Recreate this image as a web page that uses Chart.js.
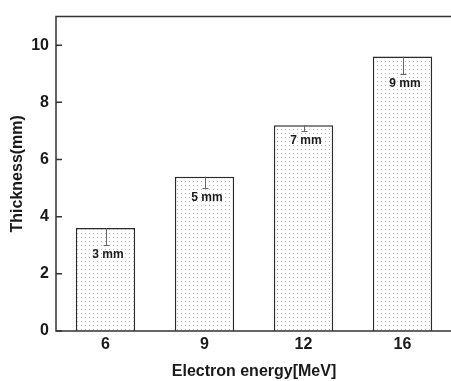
<!DOCTYPE html>
<html>
<head>
<meta charset="utf-8">
<script src="https://cdn.jsdelivr.net/npm/chart.js@4/dist/chart.umd.min.js"></script>
<style>
  html, body { margin: 0; padding: 0; background: #fff; overflow: hidden; }
  #wrap { width: 455px; height: 381px; }
</style>
</head>
<body>
<div id="wrap"><canvas id="thicknessChart"></canvas></div>
<script>
// Data
const energies = ["6", "9", "12", "16"];
const thickness = [3.6, 5.4, 7.2, 9.6];
const thicknessErr = [0.6, 0.4, 0.2, 0.6];
const barLabels = ["3 mm", "5 mm", "7 mm", "9 mm"];
const yTicks = [0, 2, 4, 6, 8, 10];

const FONT = "'Liberation Sans', Arial, sans-serif";
const INK = "#1a1a1a";

// Dotted fill pattern
function dotPattern() {
  const c = document.createElement("canvas");
  c.width = 4;
  c.height = 4;
  const g = c.getContext("2d");
  g.fillStyle = "#fff";
  g.fillRect(0, 0, 4, 4);
  g.fillStyle = "#b4b4b4";
  g.fillRect(1, 1, 1, 1);
  return g.createPattern(c, "repeat");
}

// Frame, inward ticks, error bars and labels
const extras = {
  id: "extras",
  afterDatasetsDraw(chart) {
    const { ctx, chartArea: a, scales: { x, y } } = chart;
    ctx.save();

    // error bars (lower half only)
    ctx.strokeStyle = "#666";
    ctx.lineWidth = 1;
    thickness.forEach((v, i) => {
      const px = Math.round(x.getPixelForValue(i)) + 0.5;
      const top = y.getPixelForValue(v);
      const bot = Math.round(y.getPixelForValue(v - thicknessErr[i])) + 0.5;
      ctx.beginPath();
      ctx.moveTo(px, top);
      ctx.lineTo(px, bot);
      ctx.moveTo(px - 3, bot);
      ctx.lineTo(px + 3, bot);
      ctx.stroke();

      ctx.fillStyle = INK;
      ctx.font = "bold 12px " + FONT;
      ctx.textAlign = "center";
      ctx.textBaseline = "middle";
      ctx.fillText(barLabels[i], px + 1.5, bot + 9);
    });

    // axes frame
    ctx.strokeStyle = "#333";
    ctx.lineWidth = 1.5;
    ctx.beginPath();
    ctx.moveTo(a.right + 5, a.top);
    ctx.lineTo(a.left, a.top);
    ctx.lineTo(a.left, a.bottom);
    ctx.lineTo(a.right + 5, a.bottom);
    ctx.stroke();

    // inward y ticks
    ctx.beginPath();
    yTicks.forEach(t => {
      const py = y.getPixelForValue(t);
      ctx.moveTo(a.left, py);
      ctx.lineTo(a.left + 6, py);
    });
    ctx.stroke();
    ctx.restore();
  }
};

new Chart(document.getElementById("thicknessChart"), {
  type: "bar",
  data: {
    labels: energies,
    datasets: [{
      data: thickness,
      backgroundColor: dotPattern(),
      borderColor: "#2a2a2a",
      borderWidth: 1.5,
      barPercentage: 0.6,
      categoryPercentage: 1
    }]
  },
  options: {
    responsive: true,
    maintainAspectRatio: false,
    animation: false,
    layout: { padding: { top: 11, right: 3, left: 0, bottom: 0 } },
    plugins: {
      legend: { display: false },
      tooltip: { enabled: false }
    },
    scales: {
      x: {
        grid: { display: false, drawTicks: false },
        border: { display: false },
        ticks: { color: INK, font: { family: FONT, size: 16, weight: "bold" }, padding: 4 },
        title: {
          display: true,
          text: "Electron energy[MeV]",
          color: INK,
          font: { family: FONT, size: 16, weight: "bold" },
          padding: { top: 6, bottom: 0 }
        },
        afterFit(scale) { scale.height = 50; }
      },
      y: {
        min: 0,
        max: 11,
        grid: { display: false, drawTicks: false },
        border: { display: false },
        ticks: {
          stepSize: 2,
          includeBounds: false,
          color: INK,
          padding: 7,
          font: { family: FONT, size: 16, weight: "bold" }
        },
        title: {
          display: true,
          text: "Thickness(mm)",
          color: INK,
          font: { family: FONT, size: 16, weight: "bold" },
          padding: { top: 8, bottom: 4 }
        },
        afterFit(scale) { scale.width = 56; }
      }
    }
  },
  plugins: [extras]
});
</script>
</body>
</html>
